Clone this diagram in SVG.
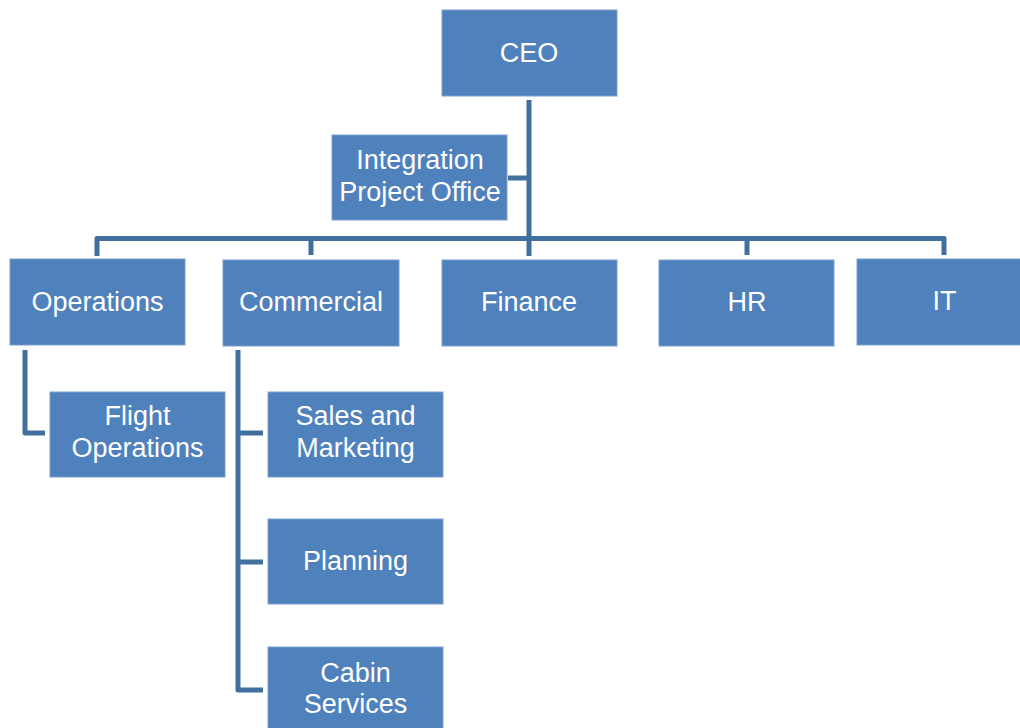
<svg xmlns="http://www.w3.org/2000/svg" width="1020" height="728" viewBox="0 0 1020 728">
<style>
.box{fill:#4F81BD;stroke:#7A9FCF;stroke-width:1}
.lbl{fill:#FFFFFF;font-family:"Liberation Sans",Arial,sans-serif;font-size:27px;text-anchor:middle}
.conn{fill:none;stroke:#41709F;stroke-width:5;stroke-linejoin:round;stroke-linecap:butt}
</style>
<rect width="1020" height="728" fill="#FFFFFF"/>
<g id="connectors">
<path class="conn" d="M529,100 V256"/>
<path class="conn" d="M508,178 H529"/>
<path class="conn" d="M97,256 V238.5 H944 V255"/>
<path class="conn" d="M311,238.5 V255"/>
<path class="conn" d="M747,238.5 V255"/>
<path class="conn" d="M25,350 V433 H45"/>
<path class="conn" d="M238,350 V690 H263"/>
<path class="conn" d="M238,433 H263"/>
<path class="conn" d="M238,562 H263"/>
</g>
<g id="ceo"><rect class="box" x="442" y="10" width="175" height="86"/><text class="lbl" x="529" y="62">CEO</text></g>
<g id="ipo"><rect class="box" x="332" y="135" width="175" height="85"/><text class="lbl" x="420" y="169">Integration</text><text class="lbl" x="420" y="201">Project Office</text></g>
<g id="operations"><rect class="box" x="10" y="259" width="175" height="86"/><text class="lbl" x="97.5" y="311">Operations</text></g>
<g id="commercial"><rect class="box" x="223" y="260" width="176" height="86"/><text class="lbl" x="311" y="311">Commercial</text></g>
<g id="finance"><rect class="box" x="442" y="260" width="175" height="86"/><text class="lbl" x="529" y="311">Finance</text></g>
<g id="hr"><rect class="box" x="659" y="260" width="175" height="86"/><text class="lbl" x="747" y="311">HR</text></g>
<g id="it"><rect class="box" x="857" y="259" width="175" height="86"/><text class="lbl" x="944.5" y="310">IT</text></g>
<g id="flight-operations"><rect class="box" x="50" y="392" width="175" height="85"/><text class="lbl" x="137.5" y="425">Flight</text><text class="lbl" x="137.5" y="457">Operations</text></g>
<g id="sales-marketing"><rect class="box" x="268" y="392" width="175" height="85"/><text class="lbl" x="355.5" y="425">Sales and</text><text class="lbl" x="355.5" y="457">Marketing</text></g>
<g id="planning"><rect class="box" x="268" y="519" width="175" height="85"/><text class="lbl" x="355.5" y="570">Planning</text></g>
<g id="cabin-services"><rect class="box" x="268" y="647" width="175" height="85"/><text class="lbl" x="355.5" y="682">Cabin</text><text class="lbl" x="355.5" y="713">Services</text></g>
</svg>
